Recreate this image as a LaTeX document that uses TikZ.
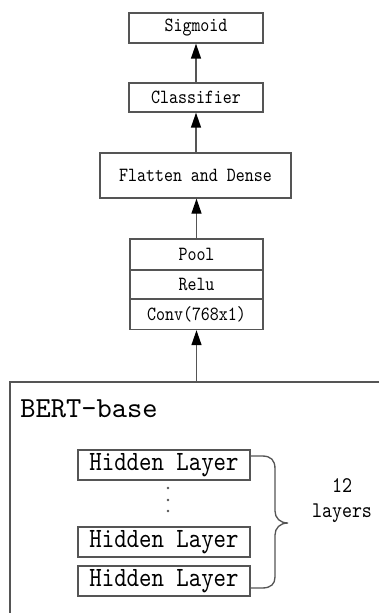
\documentclass[tikz,border=0pt]{standalone}
\usepackage{fontspec}
\usetikzlibrary{arrows.meta}
\newfontfamily\labfont{lmmono10-regular}[Extension=.otf,FakeStretch=0.85]
\newfontfamily\bertfont{lmmono10-regular}[Extension=.otf]
\definecolor{edge}{HTML}{555555}
\tikzset{
  box/.style={draw=edge, line width=1pt, fill=white, inner sep=0pt, align=center, text=black},
  small/.style={font=\labfont\fontsize{15.1}{18}\selectfont},
  hid/.style={box, font=\labfont\fontsize{20.9}{24}\selectfont, minimum width=129pt, minimum height=22.5pt},
  arr/.style={draw=edge, line width=1pt, -{Triangle[length=11.25pt,width=7.5pt,color=black]}},
}
\begin{document}
\begin{tikzpicture}[x=0.75pt,y=-0.75pt]
\useasboundingbox (0,0) rectangle (379,613);
% top stack
\node[box, small, minimum width=100.5pt, minimum height=22.5pt] (sig) at (196,28) {Sigmoid};
\node[box, small, minimum width=100.5pt, minimum height=21.75pt] (cls) at (196,97.5) {Classifier};
\node[box, small, minimum width=143.25pt, minimum height=33.75pt] (fd) at (195.5,175.5) {Flatten and Dense};
\node[box, small, minimum width=99.75pt, minimum height=23.25pt] (pool) at (196.5,254.5) {Pool};
\node[box, small, minimum width=99.75pt, minimum height=21.75pt] (relu) at (196.5,284.5) {Relu};
\node[box, small, minimum width=99.75pt, minimum height=22.9pt] (conv) at (196.5,314.25) {Conv(768x1)};
% BERT box
\coordinate (bl) at (10,613);
\coordinate (tl) at (10,382);
\coordinate (tr) at (379,382);
\coordinate (bin) at (196.5,382);
\draw[draw=edge, line width=1pt] (tr) -- (tl) -- (bl);
\node[anchor=base west, inner sep=0pt, font=\bertfont\fontsize{21.8}{26}\selectfont] (bert) at (20,417) {BERT-base};
% hidden layers
\node[hid] (h1) at (164,465) {Hidden Layer};
\node[hid] (h2) at (164,542) {Hidden Layer};
\node[hid] (h3) at (164,581) {Hidden Layer};
\foreach \yy in {488,500,511} \fill[edge] (168,\yy) circle (1.4);
% brace
\coordinate (bt) at (250,456);
\coordinate (bb) at (250,588);
\draw[draw=edge, line width=1pt] (bt) -- (262,456) .. controls (271,456) and (275,460) .. (275,469) -- (275,511)
  .. controls (275,518) and (280,523) .. (288,523)
  .. controls (280,523) and (275,528) .. (275,535) -- (275,577)
  .. controls (275,584) and (271,588) .. (262,588) -- (bb);
\node[font=\labfont\fontsize{16.8}{18.5}\selectfont, align=center, inner sep=0pt, anchor=base] (lay) at (342,517) {12\\layers};
% arrows
\draw[arr] (bin) -- (conv.south);
\draw[arr] (pool.north) -- (pool.north |- fd.south);
\draw[arr] (fd.north -| cls.south) -- (cls.south);
\draw[arr] (cls.north) -- (sig.south);
\end{tikzpicture}
\end{document}
